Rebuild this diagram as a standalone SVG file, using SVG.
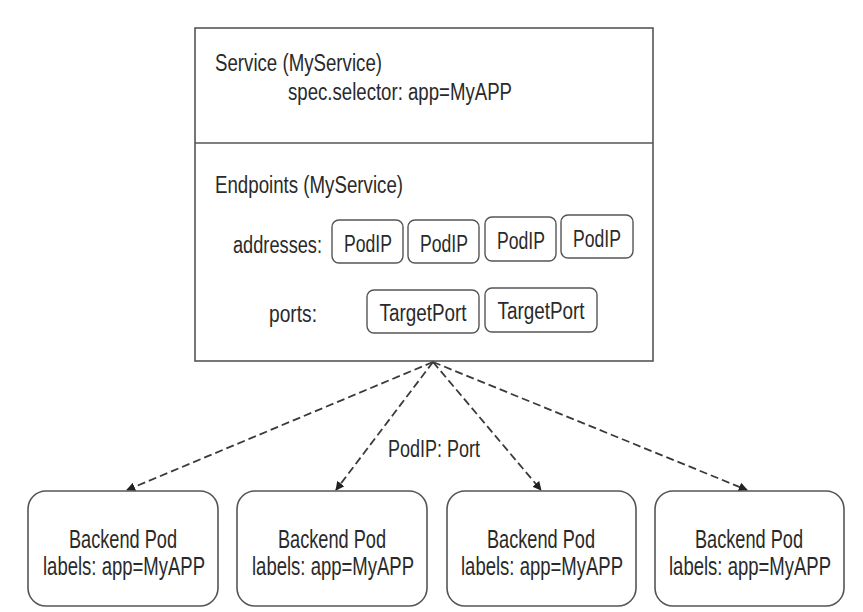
<svg xmlns="http://www.w3.org/2000/svg" width="863" height="612" viewBox="0 0 863 612">
<style>
text{font-family:"Liberation Sans",Arial,sans-serif;fill:#2a2a2a;}
.t{font-size:23px;}
.p{font-size:25px;}
.box{fill:#fff;stroke:#555;stroke-width:1.6;}
.sm{fill:#fff;stroke:#555;stroke-width:1.4;}
.pod{fill:#fff;stroke:#555;stroke-width:1.6;}
.con{fill:none;stroke:#3a3a3a;stroke-width:1.8;stroke-dasharray:8 4;marker-end:url(#ah);}
</style>
<defs>
<marker id="ah" viewBox="0 0 10 10" refX="9" refY="5" markerWidth="5" markerHeight="5" orient="auto" markerUnits="strokeWidth">
<path d="M0,0 L10,5 L0,10 z" fill="#222"/>
</marker>
</defs>
<rect width="863" height="612" fill="#fff"/>
<g id="service">
<rect class="box" x="195" y="28" width="458" height="333"/>
<line x1="195" y1="143" x2="653" y2="143" stroke="#555" stroke-width="1.6"/>
<text class="t" x="215" y="71" textLength="167" lengthAdjust="spacingAndGlyphs">Service (MyService)</text>
<text class="t" x="288" y="100" textLength="224" lengthAdjust="spacingAndGlyphs">spec.selector: app=MyAPP</text>
</g>
<g id="endpoints">
<text class="t" x="215" y="193" textLength="188" lengthAdjust="spacingAndGlyphs">Endpoints (MyService)</text>
<text class="t" x="233" y="253" textLength="89" lengthAdjust="spacingAndGlyphs">addresses:</text>
<text class="t" x="269" y="322" textLength="48" lengthAdjust="spacingAndGlyphs">ports:</text>
</g>
<g id="podip1"><rect class="sm" x="332" y="220" width="71" height="43" rx="7"/><text class="t" x="368" y="252" text-anchor="middle" textLength="48" lengthAdjust="spacingAndGlyphs">PodIP</text></g>
<g id="podip2"><rect class="sm" x="408" y="220" width="71" height="43" rx="7"/><text class="t" x="444" y="252" text-anchor="middle" textLength="48" lengthAdjust="spacingAndGlyphs">PodIP</text></g>
<g id="podip3"><rect class="sm" x="485" y="217" width="71" height="44" rx="7"/><text class="t" x="521" y="249" text-anchor="middle" textLength="48" lengthAdjust="spacingAndGlyphs">PodIP</text></g>
<g id="podip4"><rect class="sm" x="561" y="215" width="72" height="43" rx="7"/><text class="t" x="597" y="247" text-anchor="middle" textLength="48" lengthAdjust="spacingAndGlyphs">PodIP</text></g>
<g id="targetport1"><rect class="sm" x="367" y="290" width="112" height="43" rx="7"/><text class="t" x="423" y="321" text-anchor="middle" textLength="87" lengthAdjust="spacingAndGlyphs">TargetPort</text></g>
<g id="targetport2"><rect class="sm" x="485" y="288" width="112" height="44" rx="7"/><text class="t" x="541" y="319" text-anchor="middle" textLength="87" lengthAdjust="spacingAndGlyphs">TargetPort</text></g>
<g id="connectors">
<line class="con" x1="433" y1="362" x2="127" y2="490"/>
<line class="con" x1="433" y1="362" x2="336" y2="490"/>
<line class="con" x1="433" y1="362" x2="541" y2="490"/>
<line class="con" x1="433" y1="362" x2="747" y2="490"/>
<text class="t" x="388" y="457" textLength="92" lengthAdjust="spacingAndGlyphs">PodIP: Port</text>
</g>
<g id="pod1"><rect class="pod" x="28" y="491" width="190" height="115" rx="18"/><text class="p" x="123" y="548" text-anchor="middle" textLength="108" lengthAdjust="spacingAndGlyphs">Backend Pod</text><text class="p" x="124" y="575" text-anchor="middle" textLength="162" lengthAdjust="spacingAndGlyphs">labels: app=MyAPP</text></g>
<g id="pod2"><rect class="pod" x="237" y="491" width="190" height="115" rx="18"/><text class="p" x="332" y="548" text-anchor="middle" textLength="108" lengthAdjust="spacingAndGlyphs">Backend Pod</text><text class="p" x="333" y="575" text-anchor="middle" textLength="162" lengthAdjust="spacingAndGlyphs">labels: app=MyAPP</text></g>
<g id="pod3"><rect class="pod" x="447" y="491" width="189" height="115" rx="18"/><text class="p" x="541" y="548" text-anchor="middle" textLength="108" lengthAdjust="spacingAndGlyphs">Backend Pod</text><text class="p" x="542" y="575" text-anchor="middle" textLength="162" lengthAdjust="spacingAndGlyphs">labels: app=MyAPP</text></g>
<g id="pod4"><rect class="pod" x="655" y="491" width="189" height="115" rx="18"/><text class="p" x="749" y="548" text-anchor="middle" textLength="108" lengthAdjust="spacingAndGlyphs">Backend Pod</text><text class="p" x="750" y="575" text-anchor="middle" textLength="162" lengthAdjust="spacingAndGlyphs">labels: app=MyAPP</text></g>
</svg>
